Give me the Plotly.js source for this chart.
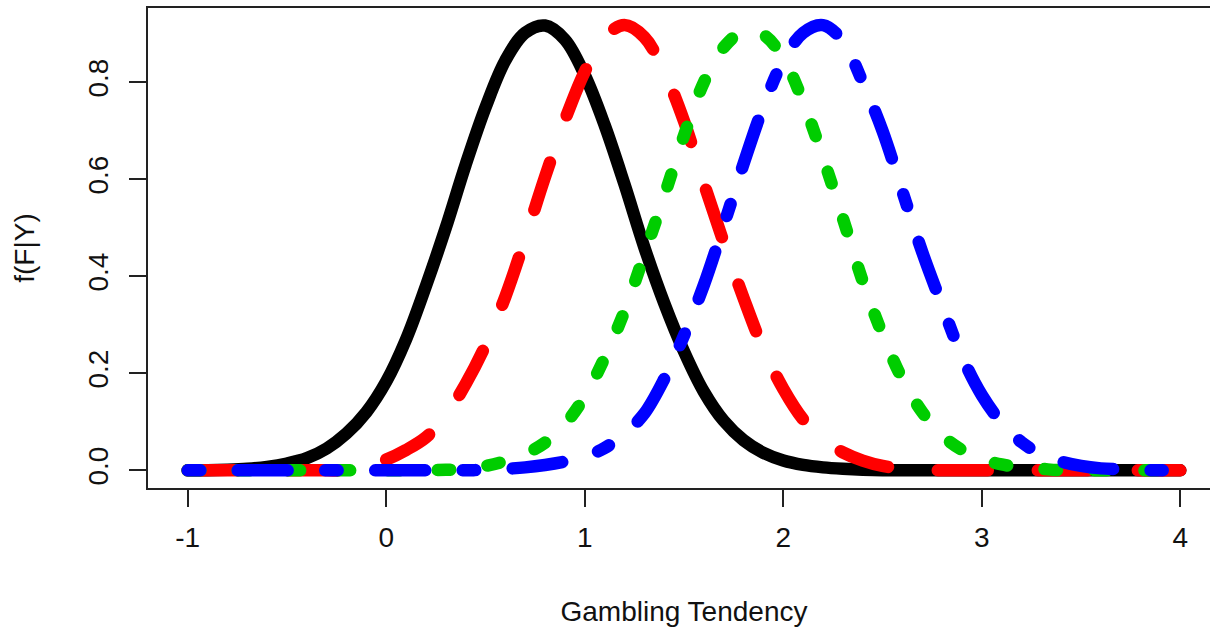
<!DOCTYPE html>
<html>
<head>
<meta charset="utf-8">
<script src="https://cdn.plot.ly/plotly-3.0.1.min.js"></script>
<style>
html, body { margin: 0; padding: 0; overflow: hidden; background: #fff; }
#chart { width: 1232px; height: 627px; }
</style>
</head>
<body>
<div id="chart"></div>
<script>
// Grid of the "Gambling Tendency" axis
const xs = [-1.0,-0.9,-0.8,-0.7,-0.6,-0.5,-0.4,-0.3,-0.2,-0.1,
            0.0,0.1,0.2,0.3,0.4,0.5,0.6,0.7,0.8,0.9,
            1.0,1.1,1.2,1.3,1.4,1.5,1.6,1.7,1.8,1.9,
            2.0,2.1,2.2,2.3,2.4,2.5,2.6,2.7,2.8,2.9,
            3.0,3.1,3.2,3.3,3.4,3.5,3.6,3.7,3.8,3.9,4.0];

// f(F|Y) curves
const blackSolid = [0,0,0.001,0.003,0.007,0.014,0.025,0.045,0.076,0.120,
  0.183,0.270,0.380,0.500,0.630,0.748,0.845,0.902,0.917,0.888,
  0.815,0.712,0.590,0.460,0.345,0.245,0.162,0.102,0.062,0.036,
  0.020,0.011,0.006,0.003,0.001,0,0,0,0,0,
  0,0,0,0,0,0,0,0,0,0,0];

const redDashed = [0,0,0,0,0,0,0,0,0,0.008,
  0.022,0.042,0.068,0.112,0.178,0.258,0.358,0.478,0.605,0.722,
  0.822,0.893,0.918,0.893,0.822,0.720,0.592,0.470,0.355,0.250,
  0.168,0.105,0.063,0.037,0.020,0.009,0.003,0,0,0,
  0,0,0,0,0,0,0,0,0,0,0];

const greenDotted = [0,0,0,0,0,0,0,0,0,0,
  0,0,0,0.001,0.003,0.009,0.019,0.034,0.057,0.095,
  0.152,0.232,0.328,0.445,0.565,0.690,0.800,0.872,0.905,0.898,
  0.850,0.760,0.645,0.520,0.390,0.280,0.188,0.120,0.072,0.042,
  0.023,0.012,0.006,0.003,0,0,0,0,0,0,0];

const blueDotDash = [0,0,0,0,0,0,0,0,0,0,
  0,0,0,0,0,0.001,0.003,0.006,0.011,0.018,
  0.028,0.046,0.075,0.117,0.188,0.278,0.382,0.505,0.632,0.750,
  0.845,0.902,0.918,0.885,0.800,0.700,0.575,0.450,0.340,0.235,
  0.155,0.098,0.058,0.033,0.018,0.009,0.004,0.002,0,0,0];

const xTickVals = [-1,0,1,2,3,4];
const xTickText = ["-1","0","1","2","3","4"];
const yTickVals = [0,0.2,0.4,0.6,0.8];
const yTickText = ["0.0","0.2","0.4","0.6","0.8"];

const W = 12.5;
function mk(y, color, dash) {
  return { x: xs, y: y, type: 'scatter', mode: 'lines',
    line: { color: color, width: W, dash: dash, shape: 'spline', smoothing: 1, simplify: false },
    hoverinfo: 'skip', showlegend: false };
}
const traces = [
  mk(blackSolid, '#000000', 'solid'),
  mk(redDashed, '#ff0000', '50px,50px'),
  mk(greenDotted, '#00cd00', '12.5px,37.5px'),
  mk(blueDotDash, '#0000ff', '12.5px,37.5px,50px,37.5px')
];

const font = { family: 'Liberation Sans, Arial, sans-serif', size: 28, color: '#111' };
const layout = {
  width: 1232, height: 627,
  margin: { l: 148, r: 12, t: 8, b: 139, pad: 0 },
  paper_bgcolor: '#ffffff', plot_bgcolor: '#ffffff',
  font: font,
  xaxis: {
    range: [-1.2, 4.2], tickvals: xTickVals, ticktext: xTickText,
    ticks: 'outside', ticklen: 17, tickwidth: 2, tickcolor: '#222',
    showline: true, mirror: true, linecolor: '#222', linewidth: 2,
    showgrid: false, zeroline: false, tickfont: font,
    ticklabelstandoff: 6,
    title: { text: 'Gambling Tendency', font: font, standoff: 51 }
  },
  yaxis: {
    range: [-0.0365, 0.9532], tickvals: yTickVals, ticktext: yTickText,
    ticks: 'outside', ticklen: 17, tickwidth: 2, tickcolor: '#222',
    showline: true, mirror: true, linecolor: '#222', linewidth: 2,
    showgrid: false, zeroline: false, tickfont: font, tickangle: -90,
    ticklabelstandoff: 10,
    title: { text: 'f(F|Y)', font: font, standoff: 40 }
  }
};

Plotly.newPlot('chart', traces, layout, { staticPlot: true, displayModeBar: false }).then(function () {
  document.querySelectorAll('.scatterlayer path.js-line').forEach(function (p) {
    p.style.strokeLinecap = 'round';
    p.style.strokeLinejoin = 'round';
  });
});
</script>
</body>
</html>
